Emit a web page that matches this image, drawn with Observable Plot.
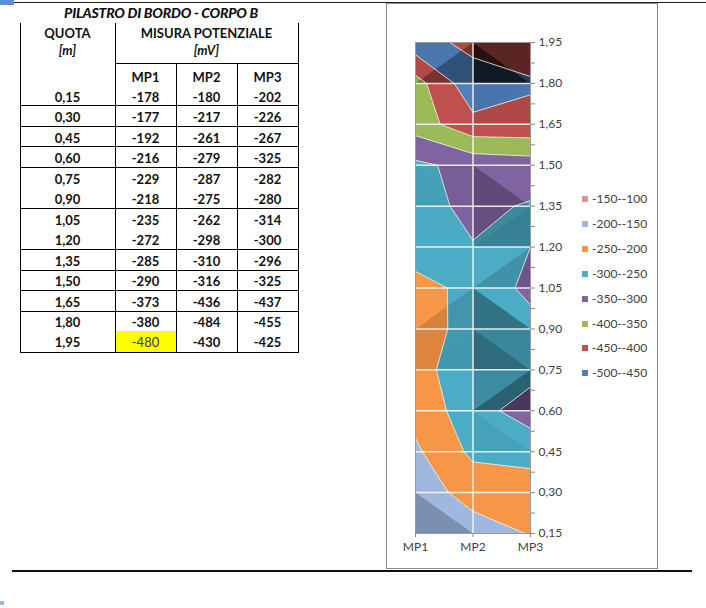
<!DOCTYPE html>
<html><head><meta charset="utf-8">
<script src="https://cdn.jsdelivr.net/npm/d3@7"></script>
<script src="https://cdn.jsdelivr.net/npm/@observablehq/plot@0.6"></script>
<style>
html,body{margin:0;padding:0;background:#fff;}
#page{position:relative;width:706px;height:608px;overflow:hidden;font-family:Lato,"Open Sans",sans-serif;}
.t{position:absolute;transform:translate(-50%,-50%);white-space:nowrap;font-weight:700;font-size:13px;color:#111;line-height:1;}
.ln{position:absolute;background:#000;}
.lg{position:absolute;font-size:12px;color:#404040;white-space:nowrap;line-height:1;transform:translateY(-50%);}
.mk{position:absolute;width:6px;height:6px;}
</style></head><body><div id="page"></div>
<script>
// ---------- data ----------
const title = "PILASTRO DI BORDO - CORPO B";
const series = ["MP1", "MP2", "MP3"];
const quota = [0.15, 0.30, 0.45, 0.60, 0.75, 0.90, 1.05, 1.20, 1.35, 1.50, 1.65, 1.80, 1.95];
const mp1 = [-178, -177, -192, -216, -229, -218, -235, -272, -285, -290, -373, -380, -480];
const mp2 = [-180, -217, -261, -279, -287, -275, -262, -298, -310, -316, -436, -484, -430];
const mp3 = [-202, -226, -267, -325, -282, -280, -314, -300, -296, -325, -437, -455, -425];
const thresholds = [-500, -450, -400, -350, -300, -250, -200, -150];
const bandLabels = ["-500--450", "-450--400", "-400--350", "-350--300", "-300--250", "-250--200", "-200--150", "-150--100"];
const bandColors = ["#4f81bd", "#c0504d", "#9bbb59", "#8064a2", "#4bacc6", "#f79646", "#a0b8e0", "#d99694"];
const highlighted = {row: 12, col: 0};

const grid = [mp1, mp2, mp3];
const fmt = v => v.toFixed(2).replace(".", ",");
const page = document.getElementById("page");

function el(cls, css, text) {
  const d = document.createElement("div");
  d.className = cls;
  Object.assign(d.style, css);
  if (text != null) d.textContent = text;
  page.appendChild(d);
  return d;
}
function hline(x1, x2, y, w = 1, c = "#000") { el("ln", {left: x1 + "px", top: y + "px", width: (x2 - x1) + "px", height: w + "px", background: c}); }
function vline(x, y1, y2, w = 1, c = "#000") { el("ln", {left: x + "px", top: y1 + "px", width: w + "px", height: (y2 - y1) + "px", background: c}); }

// ---------- page decorations ----------
hline(12, 706, 2, 1, "#222");
hline(12, 692, 570, 1.5, "#111");
el("ln", {left: "0px", top: "0px", width: "14px", height: "5px", background: "#5b8fd6"});
el("ln", {left: "0px", top: "601px", width: "4px", height: "4px", background: "#9db7e0"});

// ---------- table ----------
const colX = [20, 115, 176, 237, 298];
const colC = colX.slice(0, -1).map((x, i) => (x + colX[i + 1]) / 2);
const rowY = quota.map((_, k) => 97 + 20.45 * k);
el("t", {left: "161px", top: "13px", fontStyle: "italic", letterSpacing: "-0.2px", fontSize: "14px", fontWeight: "900"}, title);
el("t", {left: colC[0] + "px", top: "33px"}, "QUOTA");
el("t", {left: colC[0] + "px", top: "50px", fontStyle: "italic"}, "[m]");
el("t", {left: (colX[1] + colX[4]) / 2 + "px", top: "33px"}, "MISURA POTENZIALE");
el("t", {left: (colX[1] + colX[4]) / 2 + "px", top: "50px", fontStyle: "italic"}, "[mV]");
series.forEach((s, i) => el("t", {left: colC[i + 1] + "px", top: "77px"}, s));
// highlight cell
el("ln", {left: (colX[highlighted.col + 1] + 1) + "px", top: (rowY[highlighted.row] - 11) + "px",
  width: (colX[highlighted.col + 2] - colX[highlighted.col + 1] - 1) + "px", height: "21px", background: "#ffff00"});
quota.forEach((q, k) => {
  el("t", {left: colC[0] + "px", top: rowY[k] + "px"}, fmt(q));
  grid.forEach((g, i) => {
    const hl = k === highlighted.row && i === highlighted.col;
    el("t", {left: colC[i + 1] + "px", top: rowY[k] + "px", fontWeight: hl ? "400" : "700", color: hl ? "#3a3a1a" : "#111"}, String(g[k]));
  });
});
const lineAfter = [0, 1, 2, 3, 5, 7, 8, 9, 10, 12];
lineAfter.forEach(k => hline(colX[0], colX[4] + 1, Math.round(rowY[k] + 8 + k * 0.15)));
const bottomY = Math.round(rowY[12] + 8 + 12 * 0.15);
hline(colX[1], colX[4] + 1, 63);
[colX[0], colX[1], colX[4]].forEach(x => vline(x, 23, bottomY + 1));
[colX[2], colX[3]].forEach(x => vline(x, 63, bottomY + 1));

// ---------- chart box ----------
el("ln", {left: "386px", top: "3px", width: "272px", height: "566px", background: "transparent",
  border: "1.5px solid #8c8c8c", boxSizing: "border-box"});

// shading of the surface (Excel 3D lighting on triangulated cells)
const L = (() => { const v = [0.55, 0.65, 0.52]; const n = Math.hypot(...v); return v.map(d => d / n); })();
const pxX = 57.5, pxY = 40.8, kz = 0.5;
function alpha(t) {
  const [p0, p1, p2] = t;
  const dx1 = p1.c - p0.c, dy1 = p1.r - p0.r, dz1 = p1.z - p0.z;
  const dx2 = p2.c - p0.c, dy2 = p2.r - p0.r, dz2 = p2.z - p0.z;
  const det = dx1 * dy2 - dx2 * dy1;
  const fx = (dz1 * dy2 - dz2 * dy1) / det;
  const fy = (dx1 * dz2 - dx2 * dz1) / det;
  const gx = fx * kz / pxX, gy = fy * kz / pxY;
  const nn = Math.hypot(gx, gy, 1);
  const b = (-gx * L[0] - gy * L[1] + L[2]) / nn;
  const f = Math.min(1, 0.2 + 1.1 * Math.max(0, b));
  return 1 - f;
}
const triPts = [];
let tid = 0;
for (let c = 0; c < series.length - 1; c++) {
  for (let r = 0; r < quota.length - 1; r++) {
    const P = (cc, rr) => ({c: cc, r: rr, z: grid[cc][rr]});
    const BL = P(c, r), BR = P(c + 1, r), TL = P(c, r + 1), TR = P(c + 1, r + 1);
    const tris = (TL.z + BR.z > BL.z + TR.z) ? [[BL, BR, TL], [TL, TR, BR]] : [[BL, BR, TR], [BL, TL, TR]];
    for (const t of tris) {
      const a = alpha(t);
      t.forEach(p => triPts.push({id: tid, x: p.c, y: quota[p.r], a}));
      tid++;
    }
  }
}

const dq = quota[1] - quota[0];
const valueAt = (x, y) => {
  const c = Math.max(0, Math.min(series.length - 1, Math.round(x)));
  const r = Math.max(0, Math.min(quota.length - 1, Math.round((y - quota[0]) / dq)));
  return grid[c][r];
};
const sampler = {x1: -0.5, x2: series.length - 0.5, y1: quota[0] - dq / 2, y2: quota[quota.length - 1] + dq / 2,
  width: series.length, height: quota.length};
const minor = d3.pairs(quota).map(([a, b]) => (a + b) / 2);

const chart = Plot.plot({
  width: 240, height: 558,
  marginLeft: 29, marginRight: 96, marginTop: 37, marginBottom: 30,
  x: {domain: [0, series.length - 1], label: null},
  y: {domain: [quota[0], quota[quota.length - 1]], label: null},
  color: {type: "ordinal", domain: thresholds, range: bandColors},
  opacity: {type: "identity"},
  style: {fontFamily: "Lato, 'Open Sans', sans-serif", fontSize: "12px", background: "none", color: "#404040"},
  marks: [
    Plot.frame({fill: bandColors[0], stroke: null}),
    Plot.contour({...sampler, value: valueAt, fill: "value", thresholds, stroke: "none", clip: true}),
    Plot.line(triPts, {x: "x", y: "y", z: "id", fill: "black", fillOpacity: "a", stroke: "none", clip: true}),
    Plot.contour({...sampler, value: valueAt, fill: "none", thresholds, stroke: "#f6f6e4", strokeOpacity: 0.8, strokeWidth: 1, clip: true}),
    Plot.ruleY(quota.slice(1, -1), {stroke: "white", strokeWidth: 1.5, strokeOpacity: 0.85}),
    Plot.ruleX([1], {stroke: "white", strokeWidth: 1.5, strokeOpacity: 0.85}),
    Plot.frame({stroke: "#9a9a9a"}),
    Plot.axisY(minor, {anchor: "right", tickSize: 4, tickFormat: () => "", stroke: "#868686", label: null}),
    Plot.axisY(quota, {anchor: "right", tickSize: 4, tickPadding: 4, tickFormat: fmt, stroke: "#868686", fill: "#404040", label: null}),
    Plot.axisX([0, 1, 2], {anchor: "bottom", tickSize: 4, tickPadding: 5, tickFormat: i => series[i], stroke: "#868686", fill: "#404040", label: null})
  ]
});
chart.style.position = "absolute";
chart.style.left = "386px";
chart.style.top = "5px";
page.appendChild(chart);

// ---------- legend ----------
const order = d3.range(thresholds.length).reverse();
order.forEach((i, k) => {
  const y = 199 + 24.9 * k;
  el("mk", {left: "582px", top: (y - 3) + "px", background: bandColors[i]});
  el("lg", {left: "592px", top: y + "px"}, bandLabels[i]);
});
</script></body></html>
